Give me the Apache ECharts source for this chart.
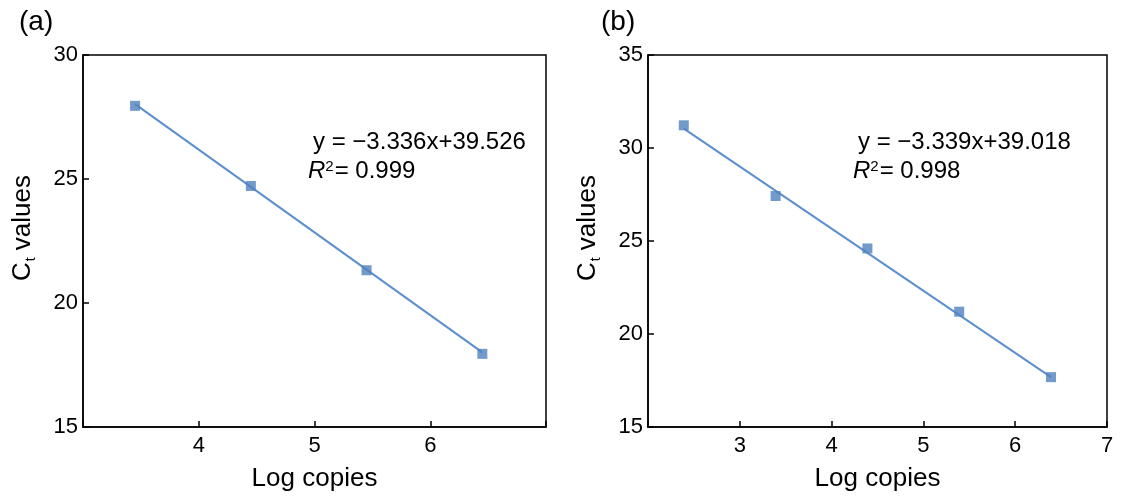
<!DOCTYPE html>
<html>
<head>
<meta charset="utf-8">
<script src="https://cdn.jsdelivr.net/npm/echarts@6/dist/echarts.min.js"></script>
<style>
  html, body { margin: 0; padding: 0; background: #fff; }
  #chart { width: 1126px; height: 501px; }
</style>
</head>
<body>
<div id="chart"></div>
<script>
// panel (a)
var aLogCopies = [3.45, 4.45, 5.45, 6.45];
var aCt = [27.95, 24.72, 21.32, 17.95];
var aFitX = [3.45, 6.45];
var aFitY = [28.02, 18.01];
var aEquation = 'y = \u22123.336x+39.526';
var aR2 = '0.999';

// panel (b)
var bLogCopies = [2.39, 3.39, 4.39, 5.39, 6.39];
var bCt = [31.22, 27.42, 24.6, 21.2, 17.68];
var bFitX = [2.39, 6.39];
var bFitY = [31.04, 17.68];
var bEquation = 'y = \u22123.339x+39.018';
var bR2 = '0.998';

var font = '"Liberation Sans", Arial, sans-serif';
var markerColor = '#4f81bd';
var lineColor = '#5b8fcf';

var chart = echarts.init(document.getElementById('chart'));

function pairs(xs, ys) {
    return xs.map(function (x, i) { return [x, ys[i]]; });
}

function xAxisFor(idx, min, max, hide) {
    return {
        type: 'value', gridIndex: idx, min: min, max: max, interval: 1,
        name: 'Log copies', nameLocation: 'middle', nameGap: 39,
        nameTextStyle: { fontFamily: font, fontSize: 26, color: '#000' },
        axisLine: { show: true, onZero: false, lineStyle: { color: '#000', width: 1.5 } },
        axisTick: { show: true, inside: true, length: 6, lineStyle: { color: '#000', width: 1.5 } },
        axisLabel: {
            fontFamily: font, fontSize: 22, color: '#000', margin: 8,
            formatter: function (v) { return hide.indexOf(v) >= 0 ? '' : String(v); }
        },
        splitLine: { show: false }
    };
}

function yAxisFor(idx, min, max) {
    return {
        type: 'value', gridIndex: idx, min: min, max: max, interval: 5,
        name: '{c|C}{t|t}{c| values}', nameLocation: 'middle', nameGap: 45,
        nameTextStyle: {
            padding: [0, 0, 0, 26],
            rich: {
                c: { fontFamily: font, fontSize: 26, color: '#000' },
                t: { fontFamily: font, fontSize: 14, color: '#000', verticalAlign: 'bottom', padding: [16, 0, 0, 1] }
            }
        },
        axisLine: { show: true, onZero: false, lineStyle: { color: '#000', width: 1.5 } },
        axisTick: { show: true, inside: true, length: 6, lineStyle: { color: '#000', width: 1.5 } },
        axisLabel: { fontFamily: font, fontSize: 22, color: '#000', margin: 5 },
        splitLine: { show: false }
    };
}

function fitText(left, top, eq, r2) {
    return [
        {
            type: 'text', left: left + 5, top: top,
            style: { text: eq, font: '24px ' + font, fill: '#000' }
        },
        {
            type: 'text', left: left, top: top + 29,
            style: {
                text: '{r|R}{s|2}{n|= ' + r2 + '}',
                rich: {
                    r: { fontFamily: font, fontSize: 24, fontStyle: 'italic', fill: '#000' },
                    s: { fontFamily: font, fontSize: 15, fill: '#000', verticalAlign: 'top', padding: [0, 1, 9, 0] },
                    n: { fontFamily: font, fontSize: 24, fill: '#000' }
                }
            }
        }
    ];
}

var option = {
    animation: false,
    backgroundColor: '#fff',
    grid: [
        { left: 83, top: 55, width: 463, height: 372, show: true, borderColor: '#000', borderWidth: 1.5, backgroundColor: 'transparent' },
        { left: 648, top: 55, width: 459, height: 372, show: true, borderColor: '#000', borderWidth: 1.5, backgroundColor: 'transparent' }
    ],
    xAxis: [xAxisFor(0, 3, 7, [3, 7]), xAxisFor(1, 2, 7, [2])],
    yAxis: [yAxisFor(0, 15, 30), yAxisFor(1, 15, 35)],
    series: [
        {
            type: 'line', xAxisIndex: 0, yAxisIndex: 0, data: pairs(aFitX, aFitY),
            symbol: 'none', lineStyle: { color: lineColor, width: 2 }, z: 2
        },
        {
            type: 'scatter', xAxisIndex: 0, yAxisIndex: 0, data: pairs(aLogCopies, aCt),
            symbol: 'rect', symbolSize: 10, itemStyle: { color: markerColor }, z: 3
        },
        {
            type: 'line', xAxisIndex: 1, yAxisIndex: 1, data: pairs(bFitX, bFitY),
            symbol: 'none', lineStyle: { color: lineColor, width: 2 }, z: 2
        },
        {
            type: 'scatter', xAxisIndex: 1, yAxisIndex: 1, data: pairs(bLogCopies, bCt),
            symbol: 'rect', symbolSize: 10, itemStyle: { color: markerColor }, z: 3
        }
    ],
    graphic: [
        { type: 'text', left: 19, top: 8, style: { text: '(a)', font: '28px ' + font, fill: '#000' } },
        { type: 'text', left: 601, top: 8, style: { text: '(b)', font: '28px ' + font, fill: '#000' } }
    ].concat(fitText(308, 130, aEquation, aR2), fitText(853, 130, bEquation, bR2))
};

chart.setOption(option);
</script>
</body>
</html>
